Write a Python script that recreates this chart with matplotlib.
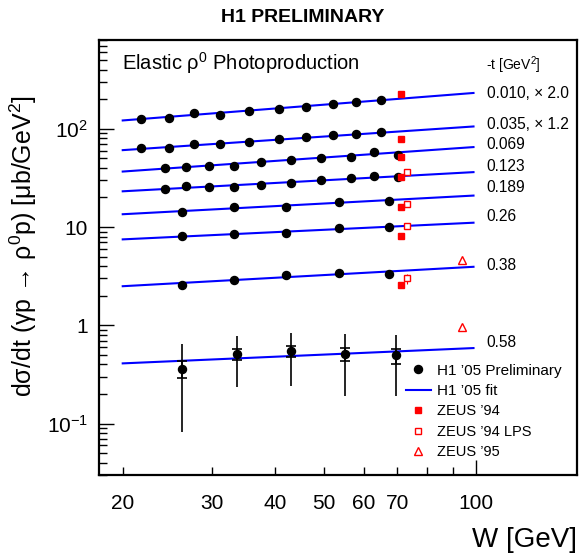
import numpy as np
import matplotlib
matplotlib.use("Agg")
import matplotlib.pyplot as plt
from matplotlib.lines import Line2D
from matplotlib.ticker import FixedLocator, FixedFormatter, NullFormatter
import matplotlib.transforms as mtransforms

plt.rcParams['font.family'] = ['Liberation Sans', 'DejaVu Sans']
plt.rcParams['mathtext.fontset'] = 'custom'
plt.rcParams['mathtext.rm'] = 'Liberation Sans'
plt.rcParams['mathtext.it'] = 'Liberation Sans:italic'

# -t bins (row labels) and W binning of the H1 points
t_labels = ['0.010, \u00d7 2.0', '0.035, \u00d7 1.2', '0.069', '0.123', '0.189', '0.26', '0.38', '0.58']
label_y = [231, 111.7, 68.7, 41.2, 25.2, 12.7, 4.10, 0.675]

w_a = [21.7, 24.7, 27.7, 31.2, 35.6, 40.7, 46.1, 52.1, 57.9, 64.9]
w_b = [24.2, 26.7, 29.7, 33.2, 37.6, 43.1, 49.5, 56.6, 62.9, 70.1]
w_c = [26.2, 33.2, 42.1, 53.6, 67.4]
w_d = [26.2, 33.7, 43.1, 55.0, 69.5]

# H1 '05 preliminary dsigma/dt values (as drawn, incl. scale factors)
h1_010 = [125.6, 128.6, 143.3, 136.7, 150.2, 158.8, 166.5, 177.8, 185.5, 194.4]
h1_035 = [64.0, 64.0, 69.8, 70.3, 73.2, 78.5, 82.3, 85.9, 88.3, 92.5]
h1_069 = [40.0, 40.7, 42.2, 42.2, 46.0, 47.9, 50.2, 52.2, 58.3, 54.7]
h1_123 = [24.4, 26.4, 25.8, 25.8, 27.0, 28.3, 30.0, 31.4, 32.9, 32.6]
h1_189 = [14.2, 15.9, 16.1, 17.9, 18.6]
h1_26 = [8.04, 8.48, 8.75, 9.77, 9.9]
h1_38 = [2.60, 2.88, 3.24, 3.37, 3.31]
h1_38_err = [0.22, 0.12, 0.08, 0.08, 0.08]
h1_58 = [0.361, 0.509, 0.543, 0.514, 0.494]
h1_58_stat_hi = [0.432, 0.578, 0.621, 0.587, 0.578]
h1_58_stat_lo = [0.290, 0.447, 0.475, 0.432, 0.407]
h1_58_tot_hi = [0.640, 0.778, 0.842, 0.823, 0.790]
h1_58_tot_lo = [0.0815, 0.235, 0.244, 0.193, 0.193]

# H1 '05 fit, values at W = 20 and W = 99 GeV
fit_w = [20, 99]
fit_lo = [121.5, 60.6, 36.7, 23.1, 13.5, 7.49, 2.50, 0.410]
fit_hi = [231.3, 105.5, 65.1, 36.2, 20.9, 11.07, 3.94, 0.587]

# ZEUS
zeus94_w = 71
zeus94 = [223.9, 77.8, 52.2, 32.1, 16.1, 8.1, 2.56]
zeus94lps_w = 73
zeus94lps = [36.2, 17.0, 10.2, 3.00]
zeus94lps_err = [1.2, 0.8, 0.5, 0.35]
zeus95_w = 94
zeus95 = [4.61, 0.96]

fig = plt.figure(figsize=(5.81, 5.55), dpi=100)
ax = fig.add_axes([99/581, 80/555, 478/581, 435/555])
ax.set_xscale('log')
ax.set_yscale('log')
ax.set_xlim(17.95, 158.7)
ax.set_ylim(0.03, 800)

blue = '#0000ff'
red = '#ff0000'

# fit lines
for lo, hi in zip(fit_lo, fit_hi):
    ax.plot(fit_w, [lo, hi], color=blue, lw=1.5, zorder=2)

# H1 points
for w, v in [(w_a, h1_010), (w_a, h1_035), (w_b, h1_069), (w_b, h1_123),
             (w_c, h1_189), (w_c, h1_26)]:
    ax.plot(w, v, 'o', color='black', ms=5.8, zorder=4)
ax.errorbar(w_c, h1_38, yerr=h1_38_err, fmt='o', color='black', ms=5.8, zorder=4,
            elinewidth=1.2, capsize=0)

v58 = np.array(h1_58)
tot_err = [v58 - np.array(h1_58_tot_lo), np.array(h1_58_tot_hi) - v58]
stat_err = [v58 - np.array(h1_58_stat_lo), np.array(h1_58_stat_hi) - v58]
ax.errorbar(w_d, h1_58, yerr=tot_err, fmt='none', ecolor='black', elinewidth=1.2, zorder=3)
ax.errorbar(w_d, h1_58, yerr=stat_err, fmt='o', color='black', ms=5.8, elinewidth=1.2,
            capsize=3.5, capthick=1.2, zorder=4)

# ZEUS points
ax.plot([zeus94_w] * len(zeus94), zeus94, 's', color=red, ms=5, zorder=5)
ax.errorbar([zeus94lps_w] * len(zeus94lps), zeus94lps, yerr=zeus94lps_err, fmt='s',
            mfc='white', mec=red, ecolor=red, ms=5, mew=1, elinewidth=0.8, zorder=3)
ax.plot([zeus95_w] * len(zeus95), zeus95, '^', mfc='none', mec=red, ms=5.5, mew=1, zorder=5)

# row labels on the right
trans = mtransforms.blended_transform_factory(ax.transAxes, ax.transData)
for lab, y in zip(t_labels, label_y):
    ax.text(0.811, y, lab, transform=trans, va='center', ha='left', fontsize=11.2)
ax.text(0.809, 439, '-t [GeV$\\mathregular{^2}$]', transform=trans, va='center', ha='left', fontsize=10)

ax.text(0.0475, 0.946, 'Elastic \u03c1$\\mathregular{^0}$ Photoproduction', transform=ax.transAxes,
        va='center', ha='left', fontsize=14.5)

# axes style
ax.xaxis.set_major_locator(FixedLocator([100]))
ax.xaxis.set_major_formatter(FixedFormatter(['100']))
ax.xaxis.set_minor_locator(FixedLocator([20, 30, 40, 50, 60, 70, 80, 90]))
ax.xaxis.set_minor_formatter(FixedFormatter(['20', '30', '40', '50', '60', '70', '', '']))
ax.yaxis.set_major_locator(FixedLocator([0.1, 1, 10, 100]))
ax.yaxis.set_major_formatter(FixedFormatter(['10$\\mathregular{^{-1}}$', '1', '10', '10$\\mathregular{^{2}}$']))
ax.yaxis.set_minor_locator(FixedLocator([k * 10.0 ** e for e in range(-2, 3) for k in range(2, 10)]))
ax.yaxis.set_minor_formatter(NullFormatter())

ax.tick_params(which='both', direction='in', top=False, right=False, width=1, labelsize=15)
ax.tick_params(axis='x', which='both', pad=14)
ax.tick_params(axis='y', which='both', pad=8)
ax.tick_params(which='major', length=11)
ax.tick_params(which='minor', length=5.5)
for s in ax.spines.values():
    s.set_linewidth(1.6)

fig.text(577/581, 15/555, 'W [GeV]', ha='right', va='center', fontsize=20)
fig.text(23/581, 0.557, 'd\u03c3/dt (\u03b3p \u2192 \u03c1$\\mathregular{^0}$p) [\u03bcb/GeV$\\mathregular{^2}$]',
         rotation=90, ha='center', va='center', fontsize=18)
fig.text(302.5/581, 1 - 17/555, 'H1 PRELIMINARY', ha='center', va='center', fontsize=14, fontweight='bold')

# legend
handles = [Line2D([], [], ls='none', marker='o', color='black', ms=5.8),
           Line2D([], [], color=blue, lw=1.5),
           Line2D([], [], ls='none', marker='s', color=red, ms=5),
           Line2D([], [], ls='none', marker='s', mfc='white', mec=red, ms=5, mew=1),
           Line2D([], [], ls='none', marker='^', mfc='none', mec=red, ms=5.5, mew=1)]
labels = ["H1 \u201905 Preliminary", "H1 \u201905 fit", "ZEUS \u201994", "ZEUS \u201994 LPS", "ZEUS \u201995"]
leg = ax.legend(handles, labels, loc='upper left', bbox_to_anchor=(0.642, 0.256), frameon=False,
                fontsize=11, handlelength=1.62, handletextpad=0.4, labelspacing=0.42, borderpad=0,
                borderaxespad=0)
for t in leg.get_texts()[2:]:
    t.set_fontsize(10.5)

fig.savefig('out.png', dpi=100)
